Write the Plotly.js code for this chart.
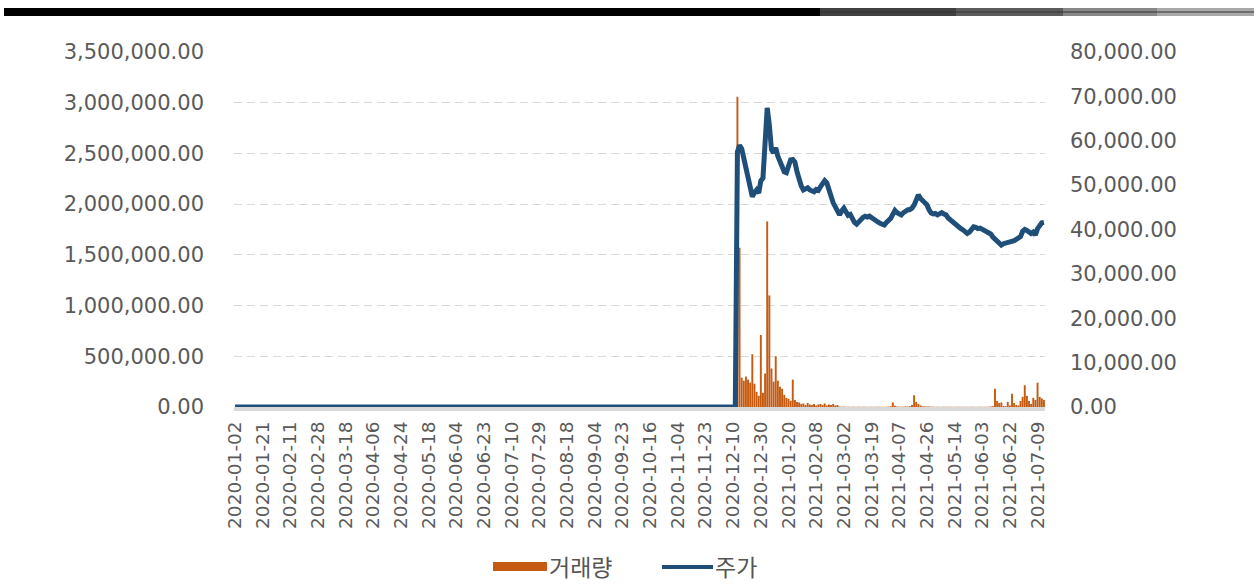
<!DOCTYPE html>
<html>
<head>
<meta charset="utf-8">
<script src="https://cdn.plot.ly/plotly-3.0.1.min.js"></script>
<style>
  html, body { margin: 0; padding: 0; background: #ffffff; }
  #chart { width: 1258px; height: 584px; }
</style>
</head>
<body>
<div id="chart"></div>
<script>
// ---------------- DATA ----------------
// x-axis tick labels (one every 13 trading days, trading-day index 0 = 2020-01-02)
const tickLabels = ["2020-01-02","2020-01-21","2020-02-11","2020-02-28","2020-03-18","2020-04-06",
  "2020-04-24","2020-05-18","2020-06-04","2020-06-23","2020-07-10","2020-07-29","2020-08-18",
  "2020-09-04","2020-09-23","2020-10-16","2020-11-04","2020-11-23","2020-12-10","2020-12-30",
  "2021-01-20","2021-02-08","2021-03-02","2021-03-19","2021-04-07","2021-04-26","2021-05-14",
  "2021-06-03","2021-06-22","2021-07-09"];
const tickStepDays = 13;
const totalDays = 381;            // trading days 0 .. 380
const listingIndex = 236;         // first trading day with price / volume
const preListingIndex = [0, 235]; // price is 0 before listing
const preListingPrice = [0, 0];

// 주가 (price), from listingIndex onward
const price = [
  57500,59000,58200,56000,53500,51000,48500,47400,48300,48900,
  48200,51000,51600,62000,67400,63500,58000,57300,58400,56500,
  55500,54200,53000,52800,54500,55700,55800,55200,53000,51200,
  49800,48900,49200,49400,48900,48600,48500,49000,48800,49600,
  50200,51000,50500,49300,47500,46000,45200,44000,43300,44200,
  44800,44000,43200,43400,42400,41600,41200,41800,42500,42700,
  43000,42800,43000,42600,42200,42000,41700,41400,41100,41000,
  41600,42000,42500,43400,44300,43800,43500,43300,43800,44200,
  44400,44500,44800,45500,46800,47800,47000,46400,45900,45600,
  44500,43700,43500,43600,43300,43600,43800,43500,43300,42600,
  42200,41800,41300,40700,40500,40200,39900,39500,39100,39400,
  40100,40600,40500,40200,40300,40100,39900,39700,39500,39000,
  38300,37800,37200,36700,36500,36800,36900,37100,37200,37300,
  37500,37800,38000,38400,39600,40000,39800,39600,39100,39400,
  38800,40200,41000,41500,41600
];

// 거래량 (volume), from listingIndex onward
const volume = [
  3060000,1570000,290000,260000,300000,270000,240000,520000,230000,150000,
  110000,710000,140000,330000,1830000,1100000,380000,250000,500000,260000,
  200000,180000,120000,90000,80000,60000,270000,70000,50000,45000,
  30000,35000,20000,40000,25000,20000,30000,15000,25000,30000,
  20000,35000,15000,25000,20000,30000,15000,20000,5000,3000,
  4000,3000,3000,2000,3000,2000,2000,3000,2000,2000,
  3000,2000,2000,3000,2000,2000,3000,2000,2000,2000,
  3000,4000,8000,45000,12000,5000,4000,3000,4000,6000,
  5000,8000,20000,115000,50000,30000,15000,8000,6000,5000,
  4000,3000,3000,2000,3000,2000,2000,3000,2000,2000,
  3000,2000,2000,2000,3000,2000,2000,3000,2000,2000,
  3000,2000,2000,2000,3000,2000,3000,2000,3000,5000,
  8000,180000,60000,40000,45000,10000,8000,50000,15000,130000,
  40000,20000,15000,60000,100000,215000,110000,60000,30000,90000,
  70000,240000,100000,85000,70000
];

const seriesNames = ["거래량", "주가"];
const colors = { volume: "#C55A11", price: "#1F4E79" };

// ---------------- LAYOUT HELPERS ----------------
const W = 1258, H = 584;
const M = { l: 234, r: 213, t: 52, b: 177 };
const PW = W - M.l - M.r, PH = H - M.t - M.b;
const px = x => (x - M.l) / PW;
const py = y => (H - M.b - y) / PH;

const dataX = price.map((_, i) => listingIndex + i);
const tickVals = tickLabels.map((_, i) => i * tickStepDays);

const volumeTrace = {
  type: "bar",
  x: dataX,
  y: volume,
  name: seriesNames[0],
  marker: { color: colors.volume, line: { width: 0 } },
  yaxis: "y",
  hoverinfo: "skip"
};
const priceTrace = {
  type: "scatter",
  mode: "lines",
  x: preListingIndex.concat(dataX),
  y: preListingPrice.concat(price),
  name: seriesNames[1],
  line: { color: colors.price, width: 5 },
  yaxis: "y2",
  hoverinfo: "skip"
};

const tickFont = { family: "DejaVu Sans", size: 21, color: "#5a5a5a" };

// decorative top strip + custom legend
const shapes = [];
const strip = [[4, 820, "#000000"], [820, 956, "#404040"], [956, 1063, "#5c5c5c"], [1063, 1157, "#888888"], [1157, 1254, "#a9a9a9"]];
strip.forEach(s => shapes.push({ type: "rect", xref: "paper", yref: "paper", x0: px(s[0]), x1: px(s[1]), y0: py(16), y1: py(8), fillcolor: s[2], line: { width: 0 }, layer: "above" }));
shapes.push({ type: "line", xref: "paper", yref: "paper", x0: px(820), x1: px(1254), y0: py(12), y1: py(12), line: { color: "#333333", width: 1 } });
// legend symbols
shapes.push({ type: "rect", xref: "paper", yref: "paper", x0: px(493), x1: px(547), y0: py(571), y1: py(562), fillcolor: colors.volume, line: { width: 0 } });
shapes.push({ type: "line", xref: "paper", yref: "paper", x0: px(662), x1: px(713), y0: py(567), y1: py(567), line: { color: colors.price, width: 4 } });

const legendFont = { family: "Noto Sans CJK KR", size: 23, color: "#555555" };
const annotations = [
  { xref: "paper", yref: "paper", x: px(547), y: py(566), xanchor: "left", yanchor: "middle", text: seriesNames[0], showarrow: false, font: legendFont },
  { xref: "paper", yref: "paper", x: px(713), y: py(566), xanchor: "left", yanchor: "middle", text: seriesNames[1], showarrow: false, font: legendFont }
];

const layout = {
  width: W, height: H,
  margin: M,
  paper_bgcolor: "#ffffff",
  plot_bgcolor: "#ffffff",
  showlegend: false,
  bargap: 0.1,
  xaxis: {
    type: "linear",
    range: [-0.5, totalDays - 0.5],
    tickmode: "array",
    tickvals: tickVals,
    ticktext: tickLabels,
    tickangle: -90,
    tickfont: { family: "DejaVu Sans", size: 18.5, color: "#5a5a5a" },
    showgrid: false,
    zeroline: false,
    showline: true,
    linecolor: "#d9d9d9",
    linewidth: 4,
    ticks: "",
    ticklabelstandoff: 3,
    fixedrange: true
  },
  yaxis: {
    range: [0, 3500000],
    dtick: 500000,
    tick0: 0,
    tickformat: ",.2f",
    tickfont: tickFont,
    showgrid: true,
    gridcolor: "#d9d9d9",
    gridwidth: 1,
    griddash: "8px,5px",
    zeroline: false,
    showline: false,
    ticks: "",
    ticklabelstandoff: 29,
    fixedrange: true
  },
  yaxis2: {
    overlaying: "y",
    side: "right",
    range: [0, 80000],
    dtick: 10000,
    tick0: 0,
    tickformat: ",.2f",
    tickfont: tickFont,
    showgrid: false,
    zeroline: false,
    showline: false,
    ticks: "",
    ticklabelstandoff: 24,
    fixedrange: true
  },
  shapes: shapes,
  annotations: annotations
};

Plotly.newPlot("chart", [volumeTrace, priceTrace], layout, { displayModeBar: false, staticPlot: true });
</script>
</body>
</html>
